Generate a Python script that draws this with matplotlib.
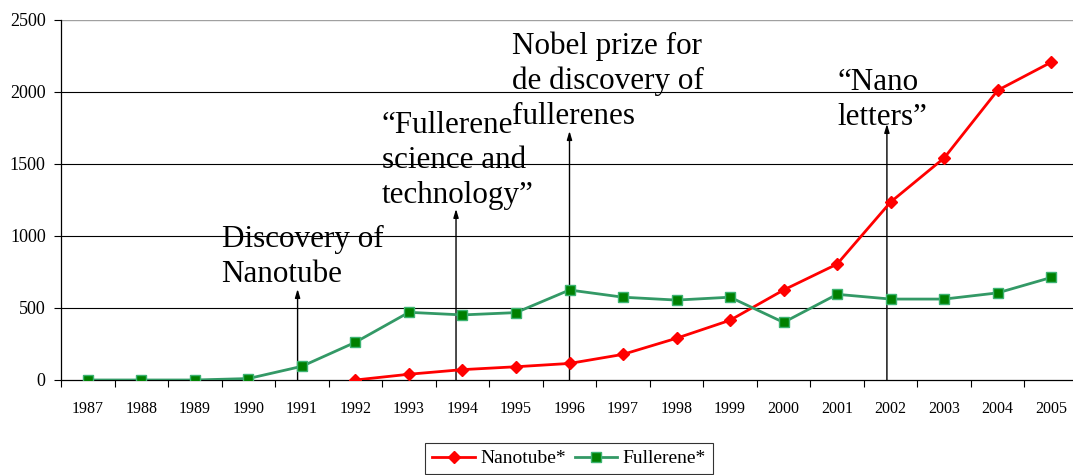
import matplotlib
matplotlib.use("Agg")
import matplotlib.pyplot as plt
import numpy as np

years = [str(y) for y in range(1987, 2006)]
nanotube_years = [str(y) for y in range(1992, 2006)]
nanotube = [0, 40, 72, 92, 115, 178, 290, 415, 625, 805, 1236, 1542, 2012, 2207]
fullerene = [0, 0, 0, 10, 95, 262, 470, 452, 468, 625, 575, 555, 575, 400, 595, 562, 562, 605, 712]

annotations = [
    ("Discovery of\nNanotube", 1990.92, 632, 1989.5),
    ("\u201cFullerene\nscience and\ntechnology\u201d", 1993.88, 1188, 1992.49),
    ("Nobel prize for\nde discovery of\nfullerenes", 1996.0, 1729, 1994.93),
    ("\u201cNano\nletters\u201d", 2001.93, 1778, 2001.01),
]
ann_text_top = [1075, 1867, 2422, 2166]

plt.rcParams['font.family'] = ['Liberation Serif', 'DejaVu Serif']

W, H = 1073, 475
fig = plt.figure(figsize=(W / 100, H / 100), dpi=100)
x0, x1, y0, y1 = 61, 1078, 20, 380
ax = fig.add_axes([x0 / W, 1 - y1 / H, (x1 - x0) / W, (y1 - y0) / H])

idx = {y: i for i, y in enumerate(years)}
xf = np.arange(len(years))
xn = np.array([idx[y] for y in nanotube_years])

ax.plot(xn, nanotube, color='#FF0000', lw=2, marker='D', ms=6,
        mfc='#FF0000', mec='#FF0000', label='Nanotube*', zorder=4)
ax.plot(xf, fullerene, color='#339966', lw=2, marker='s', ms=6.5,
        mfc='#008000', mec='#3CB371', mew=1, label='Fullerene*', zorder=4)

ax.set_xlim(-0.5, len(years) - 0.5)
ax.set_ylim(0, 2500)
ax.set_yticks([0, 500, 1000, 1500, 2000, 2500])
ax.set_yticklabels(['0', '500', '1000', '1500', '2000', '2500'], fontsize=13)
ax.set_xticks(xf)
ax.set_xticklabels(years, fontsize=11.5)
ax.set_xticks(np.arange(-0.5, len(years), 1), minor=True)
ax.tick_params(axis='x', which='major', length=0, pad=15)
ax.tick_params(axis='x', which='minor', length=5, direction='out', width=0.8)
ax.tick_params(axis='y', length=5, direction='out', width=0.8, pad=6)

for v in [500, 1000, 1500, 2000]:
    ax.axhline(v, color='black', lw=0.8, zorder=1)
ax.axhline(2500, color='#A0A0A0', lw=1, zorder=1)

for s in ['top', 'right']:
    ax.spines[s].set_visible(False)
ax.spines['left'].set_linewidth(0.9)
ax.spines['bottom'].set_linewidth(0.9)

for (txt, xa, ytop, xt), ty in zip(annotations, ann_text_top):
    xi = xa - 1987
    ax.annotate('', xy=(xi, ytop), xytext=(xi, 0),
                arrowprops=dict(arrowstyle='-|>,head_length=0.5,head_width=0.15',
                                color='black', lw=1, shrinkA=0, shrinkB=0), zorder=3)
    ax.text(xt - 1987, ty, txt, fontsize=22.4, va='top', ha='left',
            linespacing=1.26, zorder=5)

leg = fig.legend(loc='upper center', bbox_to_anchor=(569 / W, 1 - 443 / H),
                 ncol=2, fontsize=14, frameon=True, fancybox=False,
                 edgecolor='black', handlelength=2.2, handletextpad=0.27,
                 columnspacing=0.45, borderpad=0.35, borderaxespad=0)
leg.get_frame().set_linewidth(0.8)

fig.savefig('out.png', dpi=100)
